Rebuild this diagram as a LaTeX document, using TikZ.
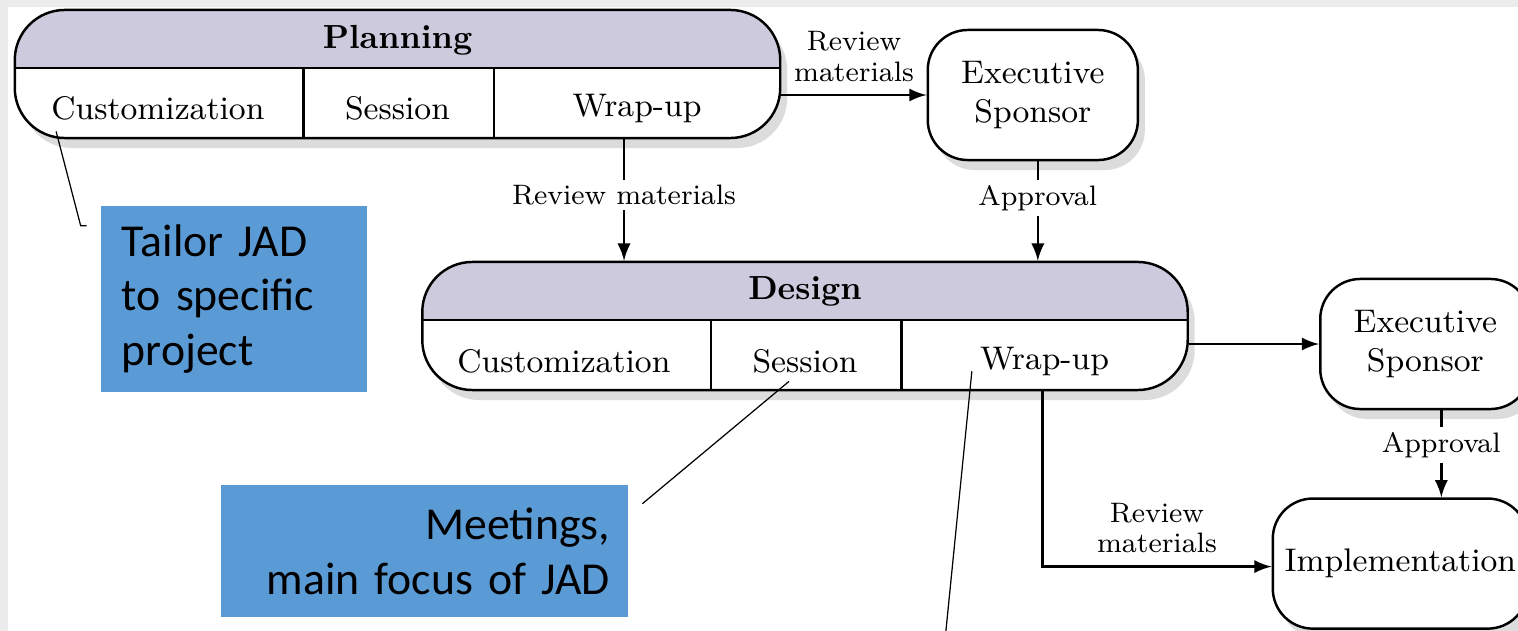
\documentclass[tikz,border=0pt]{standalone}
\usepackage{fontspec}
\newfontfamily\calloutfont{Carlito}
\usepackage{tikz}
\usetikzlibrary{shapes, arrows, positioning, calc, shadows}

\definecolor{bandgray}{RGB}{204,202,220}
\definecolor{calloutblue}{RGB}{91,155,213}
\definecolor{pagegray}{RGB}{236,236,236}

\begin{document}
\begin{tikzpicture}[x=0.01cm, y=-0.01cm, >=latex, line width=0.7pt,
	phase/.style={draw, rounded corners=0.5cm, minimum width=7.65cm, minimum height=1.28cm, fill=white,
		drop shadow={shadow xshift=0.07cm, shadow yshift=-0.1cm, fill=black!30, opacity=0.45},
		path picture={
			\fill[bandgray, sharp corners] (path picture bounding box.north west) rectangle ([yshift=-0.58cm]path picture bounding box.north east);
			\draw[line width=0.7pt] ([yshift=-0.58cm]path picture bounding box.north west) -- ([yshift=-0.58cm]path picture bounding box.north east);
			\draw[line width=0.7pt] ($(path picture bounding box.south west)!0.377!(path picture bounding box.south east)$) -- ++(0,0.7cm);
			\draw[line width=0.7pt] ($(path picture bounding box.south west)!0.626!(path picture bounding box.south east)$) -- ++(0,0.7cm);
		}},
	sponsor/.style={draw, rounded corners=0.4cm, minimum width=2.1cm, minimum height=1.3cm, fill=white, align=center,
		font=\fontsize{9.3}{11}\selectfont,
		drop shadow={shadow xshift=0.07cm, shadow yshift=-0.1cm, fill=black!30, opacity=0.45}},
	title/.style={font=\fontsize{9.5}{11}\selectfont\bfseries, inner sep=2pt},
	cell/.style={font=\fontsize{9.3}{11}\selectfont, inner sep=2pt},
	flowlabel/.style={font=\fontsize{8}{8.6}\selectfont, align=center, inner sep=1.5pt},
	arrow/.style={->, line width=0.7pt},
	callout/.style={fill=calloutblue, font=\calloutfont\fontsize{13}{15.6}\selectfont},
	leader/.style={line width=0.35pt}
]

% Page
\fill[pagegray] (0,0) rectangle (1518,631);
\fill[white] (8,7) rectangle (1518,631);
\useasboundingbox (0,0) rectangle (1518,631);

% Phases
\node[phase] (plan) at (397.5,74) {};
\node[title] (planTitle) at ($(plan.north)+(0,-0.32cm)$) {Planning};
\node[cell] (planCust) at ($(plan.south west)!0.188!(plan.south east)+(0,0.31cm)$) {Customization};
\node[cell] (planSess) at ($(plan.south west)!0.5!(plan.south east)+(0,0.31cm)$) {Session};
\node[cell] (planWrap) at ($(plan.south west)!0.812!(plan.south east)+(0,0.31cm)$) {Wrap-up};

\node[phase] (design) at (805,326) {};
\node[title] (desTitle) at ($(design.north)+(0,-0.31cm)$) {Design};
\node[cell] (desCust) at ($(design.south west)!0.186!(design.south east)+(0,0.3cm)$) {Customization};
\node[cell] (desSess) at ($(design.south west)!0.5!(design.south east)+(0,0.3cm)$) {Session};
\node[cell] (desWrap) at ($(design.south west)!0.812!(design.south east)+(0,0.3cm)$) {Wrap-up};

% Sponsors and implementation
\node[sponsor, right=1.45cm of plan, yshift=-0.21cm] (sponA) {Executive\\Sponsor};
\node[sponsor, right=1.3cm of design, yshift=-0.18cm] (sponB) {Executive\\Sponsor};
\node[sponsor, minimum width=2.52cm, below=0.87cm of sponB, xshift=-0.25cm] (impl) {Implementation};

% Arrows
\coordinate (planOut) at ($(plan.south west)!0.795!(plan.south east)$);
\coordinate (desOut) at ($(design.south west)!0.809!(design.south east)$);
\draw[arrow] (plan.east |- sponA.west) -- node[flowlabel, above=2pt] {Review\\materials} (sponA.west);
\draw[arrow] ([xshift=0.05cm]sponA.south) -- node[flowlabel, fill=white, pos=0.37] {Approval} ([xshift=0.05cm]sponA.south |- design.north);
\draw[arrow] (planOut) -- node[flowlabel, fill=white, pos=0.46] {Review materials} (planOut |- design.north);
\draw[arrow] (design.east |- sponB.west) -- (sponB.west);
\draw[arrow] ([xshift=0.16cm]sponB.south) -- node[flowlabel, fill=white, pos=0.4] {Approval} ([xshift=0.16cm]sponB.south |- impl.north);
\draw[arrow] (desOut) |- node[flowlabel, pos=0.75, above=2pt] {Review\\materials} ([yshift=-0.03cm]impl.west);

% Callouts
\node[callout, text width=2.24cm, inner xsep=0.21cm, align=left, minimum height=1.86cm] (tailor) at (234,299) {Tailor JAD to specific project};
\node[callout, text width=3.71cm, inner xsep=0.18cm, align=right, minimum height=1.32cm] (meet) at (424.5,551) {Meetings,\\main focus of JAD};

\coordinate (tailorTip) at ([xshift=-0.13cm, yshift=-0.21cm]tailor.north west);
\coordinate (wrapTip) at (945,640);
\draw[leader] ([shift={(0.13cm,-0.03cm)}]planCust.south west) -- ([xshift=-0.06cm]tailorTip) -- (tailorTip);
\draw[leader] ([shift={(0.13cm,-0.2cm)}]meet.north east) -- ([xshift=-0.16cm]desSess.south);
\draw[leader] ([yshift=-0.1cm]desWrap.west) -- (wrapTip);
\end{tikzpicture}
\end{document}
